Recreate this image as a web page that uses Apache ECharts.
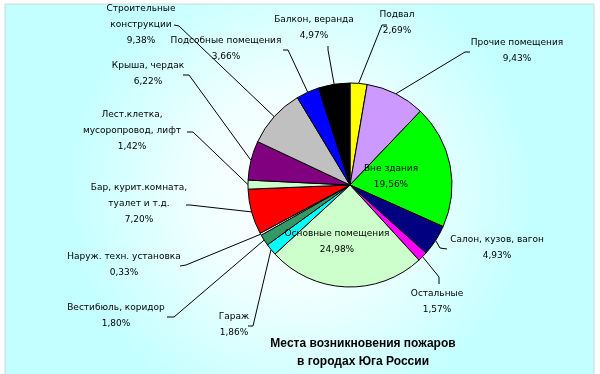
<!DOCTYPE html>
<html>
<head>
<meta charset="utf-8">
<script src="https://cdn.jsdelivr.net/npm/echarts@6/dist/echarts.min.js"></script>
<style>
html,body{margin:0;padding:0;background:#fff;}
#chart{width:600px;height:374px;}
</style>
</head>
<body>
<div id="chart"></div>
<script>
// ---- data ----
var categories = [
  'Подвал',
  'Прочие помещения',
  'Вне здания',
  'Салон, кузов, вагон',
  'Остальные',
  'Основные помещения',
  'Гараж',
  'Вестибюль, коридор',
  'Наруж. техн. установка',
  'Бар, курит.комната,\nтуалет и т.д.',
  'Лест.клетка,\nмусоропровод, лифт',
  'Крыша, чердак',
  'Строительные\nконструкции',
  'Подсобные помещения',
  'Балкон, веранда'
];
var shares = [2.69, 9.43, 19.56, 4.93, 1.57, 24.98, 1.86, 1.80, 0.33, 7.20, 1.42, 6.22, 9.38, 3.66, 4.97];
var titleLines = ['Места возникновения пожаров', 'в городах Юга России'];

// ---- styles / layout (not data) ----
var colors = ['#FFFF00','#CC99FF','#00FF00','#000080','#FF00FF','#CCFFCC','#00FFFF','#339966','#FFFFFF','#FF0000','#CCFFCC','#800080','#C0C0C0','#0000FF','#000000'];
// label centre [x,y], anchor [x,y], elbow [x,y]; null anchor = inside label
var labelLayouts = [
  {c:[397,23], a:[387,25], e:[382,25]},
  {c:[517,51], a:[470,52], e:[465,52]},
  {c:[391,177], a:null},
  {c:[497,248], a:[447,249], e:[440,248]},
  {c:[437,302], a:[439,284], e:[439,277]},
  {c:[337,242], a:null},
  {c:[234,325], a:[248,326], e:[253,326]},
  {c:[116,316], a:[167,317], e:[174,317]},
  {c:[124,265], a:[180,266], e:[186,265]},
  {c:[139,204], a:[186,205], e:[190,205]},
  {c:[132,131], a:[187,132], e:[193,132]},
  {c:[148,74],  a:[183,75],  e:[189,75]},
  {c:[141,25],  a:[174,25],  e:[179,26]},
  {c:[226,49],  a:[283,50],  e:[288,50]},
  {c:[314,28],  a:[328,46],  e:[328,50]}
];

var CX = 350, CY = 185, R = 102;

function fmt(v){ return v.toFixed(2).replace('.', ',') + '%'; }

var total = shares.reduce(function(s,v){return s+v;},0);
function edgePoint(i){
  var before = 0;
  for (var k=0;k<i;k++) before += shares[k];
  var mid = (before + shares[i]/2) / total * Math.PI * 2;
  return [CX + R*Math.sin(mid), CY - R*Math.cos(mid)];
}

var data = categories.map(function(name, i){
  var item = {name: name, value: shares[i], itemStyle: {color: colors[i]}};
  if (!labelLayouts[i].a) {
    item.labelLine = {show:false};
  }
  return item;
});

var chart = echarts.init(document.getElementById('chart'), null, {renderer:'canvas'});
chart.setOption({
  animation: false,
  graphic: [{
    type: 'rect',
    z: -10,
    shape: {x: 5, y: 4, width: 589, height: 372},
    style: {
      fill: new echarts.graphic.RadialGradient(0.5, 0.5, 0.62, [
        {offset: 0, color: '#FFFFFF'},
        {offset: 0.45, color: '#F0FFFF'},
        {offset: 1, color: '#C4FFFF'}
      ]),
      stroke: '#D0D8D8',
      lineWidth: 1
    }
  }],
  title: {
    text: titleLines.join('\n'),
    left: 358,
    top: 330,
    textAlign: 'center',
    textStyle: {fontFamily: 'Liberation Sans', fontSize: 12, fontWeight: 'bold', color: '#000', lineHeight: 18}
  },
  series: [{
    type: 'pie',
    center: [CX, CY],
    radius: [0, R],
    startAngle: 90,
    clockwise: true,
    avoidLabelOverlap: false,
    minAngle: 0,
    data: data,
    itemStyle: {borderColor: '#000', borderWidth: 1},
    emphasis: {disabled: true},
    label: {
      show: true,
      position: 'outside',
      formatter: function(p){ return p.name + '\n' + fmt(p.value); },
      fontFamily: 'DejaVu Sans',
      fontSize: 9,
      lineHeight: 16,
      color: '#000',
      align: 'center'
    },
    labelLine: {show: true, length: 10, length2: 10, lineStyle: {color: '#000', width: 1}},
    labelLayout: function(params){
      var L = labelLayouts[params.dataIndex];
      var out = {x: L.c[0], y: L.c[1], align: 'center', verticalAlign: 'middle'};
      if (L.a) {
        var start = (params.labelLinePoints && params.labelLinePoints[0]) ? params.labelLinePoints[0] : edgePoint(params.dataIndex);
        out.labelLinePoints = [start, L.e, L.a];
      }
      return out;
    }
  }]
});
</script>
</body>
</html>
